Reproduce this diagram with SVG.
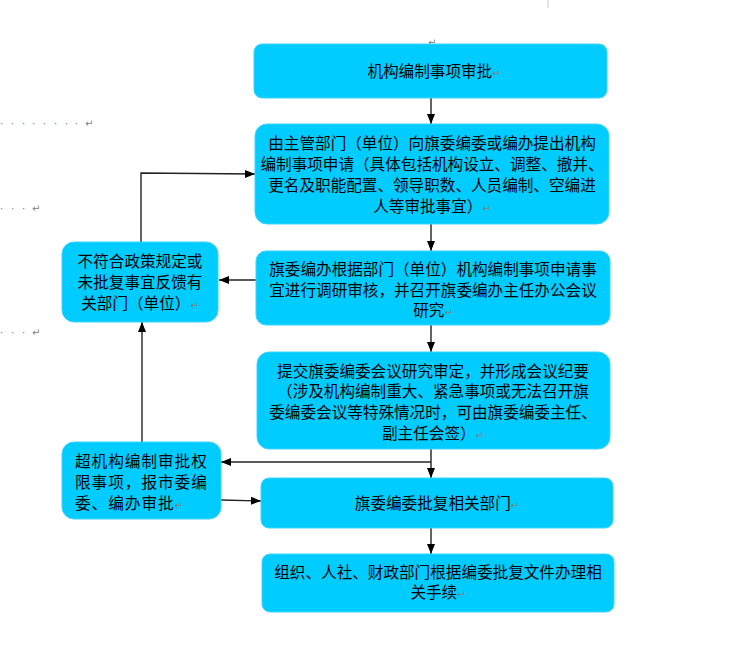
<svg xmlns="http://www.w3.org/2000/svg" width="746" height="667" viewBox="0 0 746 667">
<defs>
<style>
.box{fill:#00CCFF;stroke:#3FD4FF;stroke-width:1}
.t{font-family:"Noto Sans CJK SC","Noto Sans",sans-serif;font-size:15.6px;fill:#000}
.c{text-anchor:middle}
.pm{font-family:"DejaVu Sans",sans-serif;font-size:10px;fill:#808080}
.ln{fill:none;stroke:#222;stroke-width:1.4}
.dot{font-family:"DejaVu Sans",sans-serif;font-size:10px;fill:#808080}
</style>
<marker id="ah" markerUnits="userSpaceOnUse" markerWidth="10" markerHeight="10" viewBox="0 0 10 10" refX="10" refY="5" orient="auto">
<path d="M0,1 L10,5 L0,9 Z" fill="#000"/>
</marker>
</defs>
<rect width="746" height="667" fill="#fff"/>
<!-- formatting marks -->
<g id="marks">
<line x1="548" y1="0" x2="548" y2="8" stroke="#c8c8c8" stroke-width="1"/>
<text class="pm" x="428" y="46">↵</text>
<text class="dot" x="0 11 22 32 43 54 65 75 85" y="127">········↵</text>
<text class="dot" x="0 11 22 32" y="212">···↵</text>
<text class="dot" x="0 11 22 32" y="336">···↵</text>
</g>
<g id="connectors">
<line class="ln" x1="431" y1="98" x2="431" y2="124" marker-end="url(#ah)"/>
<line class="ln" x1="431" y1="224" x2="431" y2="251" marker-end="url(#ah)"/>
<line class="ln" x1="431" y1="325" x2="431" y2="352" marker-end="url(#ah)"/>
<line class="ln" x1="431" y1="449" x2="431" y2="478" marker-end="url(#ah)"/>
<line class="ln" x1="431" y1="528" x2="431" y2="554" marker-end="url(#ah)"/>
<line class="ln" x1="256" y1="280" x2="219" y2="280" marker-end="url(#ah)"/>
<line class="ln" x1="431" y1="462" x2="221" y2="462" marker-end="url(#ah)"/>
<line class="ln" x1="221" y1="500" x2="261" y2="501" marker-end="url(#ah)"/>
<line class="ln" x1="142" y1="442" x2="142" y2="322" marker-end="url(#ah)"/>
<polyline class="ln" points="141,242 141,173 255,174" marker-end="url(#ah)"/>
</g>
<g id="n1">
<rect class="box" x="254" y="44" width="353" height="54" rx="8"/>
<text class="t c" x="434" y="77">机构编制事项审批<tspan class="pm">↵</tspan></text>
</g>
<g id="n2">
<rect class="box" x="255" y="124" width="354" height="100" rx="12"/>
<text class="t c" x="432" y="149">由主管部门（单位）向旗委编委或编办提出机构</text>
<text class="t c" x="432" y="170">编制事项申请（具体包括机构设立、调整、撤并、</text>
<text class="t c" x="432" y="191">更名及职能配置、领导职数、人员编制、空编进</text>
<text class="t c" x="432" y="212">人等审批事宜）<tspan class="pm">↵</tspan></text>
</g>
<g id="n3">
<rect class="box" x="256" y="251" width="354" height="74" rx="10"/>
<text class="t c" x="433" y="275">旗委编办根据部门（单位）机构编制事项申请事</text>
<text class="t c" x="433" y="296">宜进行调研审核，并召开旗委编办主任办公会议</text>
<text class="t c" x="433" y="316">研究<tspan class="pm">↵</tspan></text>
</g>
<g id="n4">
<rect class="box" x="257" y="352" width="353" height="97" rx="12"/>
<text class="t c" x="433" y="377">提交旗委编委会议研究审定，并形成会议纪要</text>
<text class="t c" x="433" y="397">（涉及机构编制重大、紧急事项或无法召开旗</text>
<text class="t c" x="433" y="418">委编委会议等特殊情况时，可由旗委编委主任、</text>
<text class="t c" x="433" y="439">副主任会签）<tspan class="pm">↵</tspan></text>
</g>
<g id="n5">
<rect class="box" x="261" y="478" width="352" height="50" rx="8"/>
<text class="t c" x="437" y="509">旗委编委批复相关部门<tspan class="pm">↵</tspan></text>
</g>
<g id="n6">
<rect class="box" x="262" y="554" width="352" height="58" rx="8"/>
<text class="t c" x="438" y="578">组织、人社、财政部门根据编委批复文件办理相</text>
<text class="t c" x="438" y="598">关手续<tspan class="pm">↵</tspan></text>
</g>
<g id="nA">
<rect class="box" x="62" y="242" width="156" height="80" rx="12"/>
<text class="t c" x="140" y="267">不符合政策规定或</text>
<text class="t c" x="140" y="288">未批复事宜反馈有</text>
<text class="t c" x="140" y="309">关部门（单位）<tspan class="pm">↵</tspan></text>
</g>
<g id="nB">
<rect class="box" x="62" y="442" width="159" height="77" rx="12"/>
<text class="t" x="75" y="467" letter-spacing="1">超机构编制审批权</text>
<text class="t" x="75" y="488" letter-spacing="1">限事项，报市委编</text>
<text class="t" x="75" y="509" letter-spacing="1">委、编办审批<tspan class="pm" letter-spacing="0">↵</tspan></text>
</g>
</svg>
